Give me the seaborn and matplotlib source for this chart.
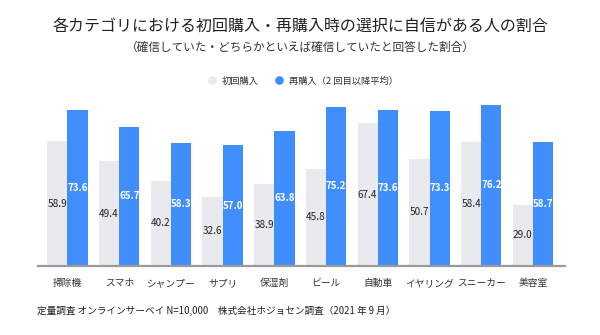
import matplotlib
matplotlib.use("Agg")
import matplotlib.pyplot as plt
from matplotlib.lines import Line2D
import seaborn as sns
import pandas as pd

categories = ["掃除機", "スマホ", "シャンプー", "サプリ", "保湿剤", "ビール", "自動車", "イヤリング", "スニーカー", "美容室"]
first_purchase = [58.9, 49.4, 40.2, 32.6, 38.9, 45.8, 67.4, 50.7, 58.4, 29.0]
repurchase = [73.6, 65.7, 58.3, 57.0, 63.8, 75.2, 73.6, 73.3, 76.2, 58.7]
series_names = ["初回購入", "再購入（2 回目以降平均）"]

title = "各カテゴリにおける初回購入・再購入時の選択に自信がある人の割合"
subtitle = "（確信していた・どちらかといえば確信していたと回答した割合）"
footer = "定量調査 オンラインサーベイ N=10,000　株式会社ホジョセン調査（2021 年 9 月）"

sns.set_theme(style="white")
plt.rcParams["font.family"] = ["Noto Sans CJK JP", "DejaVu Sans"]

GRAY = "#E8EAED"
BLUE = "#3F8EFC"

df = pd.DataFrame({
    "category": categories * 2,
    "value": first_purchase + repurchase,
    "series": [series_names[0]] * len(categories) + [series_names[1]] * len(categories),
})

fig = plt.figure(figsize=(6.0, 3.35), dpi=100)
ax = fig.add_axes([38 / 600, 1 - 265.7 / 335, (565 - 38) / 600, 80 * 2.11 / 335])

sns.barplot(data=df, x="category", y="value", hue="series", palette=[GRAY, BLUE],
            width=0.78, ax=ax, legend=False, saturation=1, linewidth=0)

ax.set_ylim(0, 80)
ax.set_xlim(-0.57, 9.62)
ax.set_xlabel("")
ax.set_ylabel("")
ax.set_yticks([])
for s in ["top", "right", "left"]:
    ax.spines[s].set_visible(False)
ax.spines["bottom"].set_color("#9A9A9A")
ax.spines["bottom"].set_linewidth(1.6)
ax.tick_params(axis="x", length=0, pad=9, labelsize=7, labelcolor="#333333")

conts = ax.containers
ax.bar_label(conts[0], labels=[f"{v:.1f}" for v in first_purchase], label_type="center",
             fontsize=7.2, color="#222222")
ax.bar_label(conts[1], labels=[f"{v:.1f}" for v in repurchase], label_type="center",
             fontsize=7.0, color="white", fontweight="bold")

fig.text(0.5, 1 - 27.5 / 335, title, ha="center", va="center", fontsize=11.5, color="#222222")
fig.text(0.5, 1 - 47.5 / 335, subtitle, ha="center", va="center", fontsize=8.4, color="#333333")
fig.text(37 / 600, 1 - 311 / 335, footer, ha="left", va="center", fontsize=6.95, color="#222222")

handles = [Line2D([0], [0], marker="o", linestyle="", markersize=5.2, markerfacecolor=c,
                  markeredgecolor=c) for c in [GRAY, BLUE]]
fig.legend(handles, series_names, loc="center", bbox_to_anchor=(0.5, 1 - 81 / 335), ncol=2,
           frameon=False, fontsize=6.7, handletextpad=0.05, columnspacing=1.2, labelcolor="#333333")

fig.savefig("out.png", dpi=100)
